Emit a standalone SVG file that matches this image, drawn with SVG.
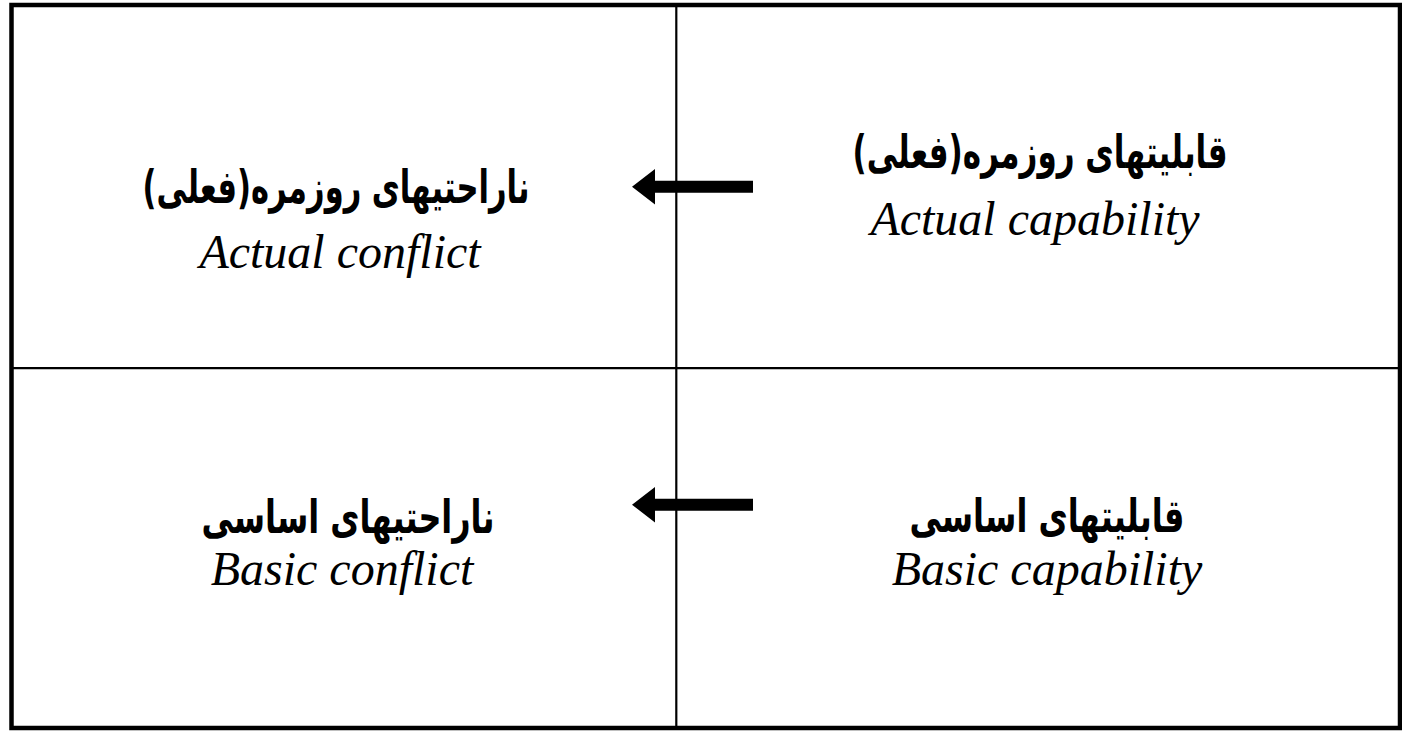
<svg xmlns="http://www.w3.org/2000/svg" width="1402" height="731" viewBox="0 0 1402 731">
<style>
.fa{font-family:"DejaVu Sans","Noto Sans",sans-serif;font-weight:bold;font-size:46px;fill:#000;text-anchor:middle;direction:rtl;unicode-bidi:embed}
.en{font-family:"Liberation Serif","Times New Roman",serif;font-style:italic;font-size:48px;fill:#000;text-anchor:middle}
.grid{fill:none;stroke:#000}
.arrow{fill:#000;stroke:none}
</style>
<rect width="1402" height="731" fill="#fff"/>
<g id="table">
<rect class="grid" x="11.5" y="5" width="1388.5" height="723" stroke-width="4.5"/>
<line class="grid" x1="676.3" y1="5" x2="676.3" y2="728" stroke-width="2.2"/>
<line class="grid" x1="11.5" y1="368.2" x2="1400" y2="368.2" stroke-width="2.2"/>
</g>
<g id="actual-conflict">
<text class="fa" x="336" y="203" direction="rtl" textLength="387" lengthAdjust="spacingAndGlyphs">ناراحتیهای روزمره(فعلی)</text>
<text class="en" x="340" y="268">Actual conflict</text>
</g>
<g id="actual-capability">
<text class="fa" x="1040" y="168" direction="rtl" textLength="375" lengthAdjust="spacingAndGlyphs">قابلیتهای روزمره(فعلی)</text>
<text class="en" x="1035" y="235">Actual capability</text>
</g>
<g id="basic-conflict">
<text class="fa" x="348" y="533" direction="rtl" textLength="293" lengthAdjust="spacingAndGlyphs">ناراحتیهای اساسی</text>
<text class="en" x="342" y="585">Basic conflict</text>
</g>
<g id="basic-capability">
<text class="fa" x="1047" y="532" direction="rtl" textLength="275" lengthAdjust="spacingAndGlyphs">قابلیتهای اساسی</text>
<text class="en" x="1047" y="585">Basic capability</text>
</g>
<g id="connectors">
<path class="arrow" d="M632,186.7 L655,169 L655,180.7 L753,180.7 L753,192.7 L655,192.7 L655,204.5 Z"/>
<path class="arrow" d="M632,504.7 L655,487 L655,498.7 L753,498.7 L753,510.7 L655,510.7 L655,522.5 Z"/>
</g>
</svg>
